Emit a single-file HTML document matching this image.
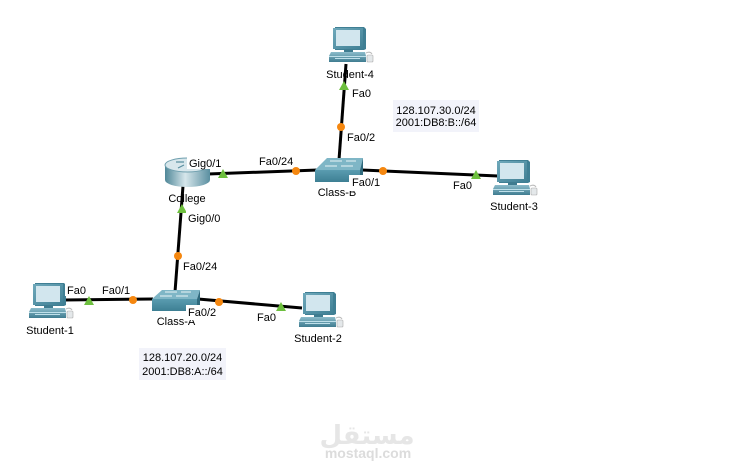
<!DOCTYPE html>
<html><head><meta charset="utf-8">
<style>
html,body{margin:0;padding:0;background:#fff;}
svg{display:block;}
text{font-family:"Liberation Sans",Arial,sans-serif;font-size:11px;fill:#000;}
</style></head>
<body>
<svg width="737" height="472" viewBox="0 0 737 472" xmlns="http://www.w3.org/2000/svg">
<defs>
  <linearGradient id="mon" x1="0" y1="0" x2="1" y2="1">
    <stop offset="0" stop-color="#6fa9bb"/><stop offset="1" stop-color="#3f7f94"/>
  </linearGradient>
  <linearGradient id="base" x1="0" y1="0" x2="0" y2="1">
    <stop offset="0" stop-color="#8cbccb"/><stop offset="1" stop-color="#3f7c90"/>
  </linearGradient>
  <linearGradient id="rbody" x1="0" y1="0" x2="1" y2="0">
    <stop offset="0" stop-color="#4f8798"/><stop offset="0.45" stop-color="#d6e6eb"/><stop offset="1" stop-color="#5a8fa0"/>
  </linearGradient>
  <linearGradient id="swfront" x1="0" y1="0" x2="0" y2="1">
    <stop offset="0" stop-color="#5a9cb0"/><stop offset="1" stop-color="#3d7f93"/>
  </linearGradient>
  <g id="pc">
    <polygon points="2,0 31,0 33,2 33,22 31,23 2,23" fill="#3f7f94"/>
    <rect x="0" y="1" width="30" height="21" fill="url(#mon)"/>
    <rect x="3" y="3" width="24" height="16" fill="#d2e6ee"/>
    <rect x="11" y="22" width="9" height="3" fill="#3f7c90"/>
    <polygon points="-2,25 32,25 33,29 33,35 -4,35 -4,29" fill="url(#base)"/>
    <rect x="-4" y="29" width="37" height="1" fill="#bfe0ea"/>
    <rect x="2" y="31" width="25" height="1" fill="#bfe0ea"/>
    <path d="M33,26 q4,-2 6,1" stroke="#bbb" fill="none" stroke-width="1"/>
    <rect x="34" y="28" width="6" height="7" rx="1" fill="#e4e8ea" stroke="#aaa" stroke-width="0.6"/>
  </g>
  <g id="tri"><polygon points="0,-5 5,4 -5,4" fill="#6dbf3e"/></g>
  <g id="dot"><circle r="4" fill="#f5870f"/></g>
</defs>

<g stroke="#000" stroke-width="3" fill="none">
  <line x1="346" y1="64" x2="339" y2="160"/>
  <line x1="208" y1="174" x2="318" y2="170"/>
  <line x1="362" y1="170" x2="498" y2="176"/>
  <line x1="183" y1="186" x2="175" y2="292"/>
  <line x1="64" y1="300" x2="153" y2="299"/>
  <line x1="198" y1="299" x2="302" y2="308"/>
</g>

<use href="#pc" x="333" y="27"/>
<use href="#pc" x="497" y="160"/>
<use href="#pc" x="303" y="292"/>
<use href="#pc" x="33" y="283"/>

<g>
  <rect x="165" y="165" width="45" height="15" fill="url(#rbody)"/>
  <ellipse cx="187.5" cy="180" rx="22.5" ry="7" fill="url(#rbody)"/>
  <ellipse cx="187.5" cy="165" rx="22.5" ry="7" fill="#d8e7ec" stroke="#6f9fae" stroke-width="1"/>
  <path d="M176,162 l8,0 M199,168 l-8,0 M178,168 l6,-3 M197,162 l-6,3" stroke="#5a8fa0" stroke-width="1.2"/>
</g>

<g>
  <polygon points="327,158 363,158 360,170 315,170" fill="#7fb6c6"/>
  <rect x="315" y="170" width="45" height="12" fill="url(#swfront)"/>
  <polygon points="360,170 363,158 363,177 360,182" fill="#2f6a7d"/>
  <path d="M330,161 l12,0 M346,161 l10,0 M325,166 l12,0 M341,166 l12,0" stroke="#eaf4f7" stroke-width="1"/>
</g>
<g>
  <polygon points="162,290 200,290 197,299 152,299" fill="#7fb6c6"/>
  <rect x="152" y="299" width="45" height="12" fill="url(#swfront)"/>
  <polygon points="197,299 200,290 200,306 197,311" fill="#2f6a7d"/>
  <path d="M165,292 l12,0 M181,292 l10,0 M160,296 l12,0 M176,296 l12,0" stroke="#eaf4f7" stroke-width="1"/>
</g>

<use href="#tri" x="344" y="86"/>
<use href="#dot" x="341" y="127"/>
<use href="#tri" x="223" y="174"/>
<use href="#dot" x="296" y="171"/>
<use href="#dot" x="383" y="171"/>
<use href="#tri" x="476" y="175"/>
<use href="#tri" x="182" y="209"/>
<use href="#dot" x="178" y="256"/>
<use href="#tri" x="89" y="301"/>
<use href="#dot" x="133" y="300"/>
<use href="#dot" x="219" y="302"/>
<use href="#tri" x="281" y="307"/>

<g text-anchor="middle">
  <text x="350" y="78">Student-4</text>
  <text x="514" y="210">Student-3</text>
  <text x="318" y="342">Student-2</text>
  <text x="50" y="334">Student-1</text>
  <text x="187" y="202">College</text>
  <text x="337" y="196">Class-B</text>
  <text x="176" y="325">Class-A</text>
</g>

<g fill="#fff">
  <rect x="350" y="86" width="20" height="13"/>
  <rect x="345" y="130" width="30" height="13"/>
  <rect x="187" y="156" width="36" height="13"/>
  <rect x="257" y="155" width="36" height="13"/>
  <rect x="349" y="175" width="31" height="16"/>
  <rect x="451" y="178" width="20" height="13"/>
  <rect x="186" y="211" width="36" height="13"/>
  <rect x="181" y="259" width="36" height="13"/>
  <rect x="65" y="283" width="20" height="13"/>
  <rect x="100" y="283" width="30" height="13"/>
  <rect x="186" y="305" width="30" height="15"/>
  <rect x="255" y="310" width="20" height="13"/>
</g>
<g>
  <text x="352" y="97">Fa0</text>
  <text x="347" y="141">Fa0/2</text>
  <text x="189" y="167">Gig0/1</text>
  <text x="259" y="165">Fa0/24</text>
  <text x="352" y="186">Fa0/1</text>
  <text x="453" y="189">Fa0</text>
  <text x="188" y="222">Gig0/0</text>
  <text x="183" y="270">Fa0/24</text>
  <text x="67" y="294">Fa0</text>
  <text x="102" y="294">Fa0/1</text>
  <text x="188" y="316">Fa0/2</text>
  <text x="257" y="321">Fa0</text>
</g>

<rect x="393" y="100" width="86" height="32" fill="#f2f3fa"/>
<text x="436" y="114" text-anchor="middle">128.107.30.0/24</text>
<text x="436" y="126" text-anchor="middle">2001:DB8:B::/64</text>
<rect x="139" y="348" width="87" height="32" fill="#f2f3fa"/>
<text x="182.5" y="361" text-anchor="middle">128.107.20.0/24</text>
<text x="182.5" y="375" text-anchor="middle">2001:DB8:A::/64</text>

<text x="367" y="444" text-anchor="middle" style="font-family:'DejaVu Sans',sans-serif;font-size:26px;font-weight:bold;fill:#e6e6e6;">مستقل</text>
<text x="368" y="458" text-anchor="middle" style="font-family:'Liberation Sans',sans-serif;font-size:14px;font-weight:bold;fill:#dcdcdc;">mostaql.com</text>
</svg>
</body></html>
